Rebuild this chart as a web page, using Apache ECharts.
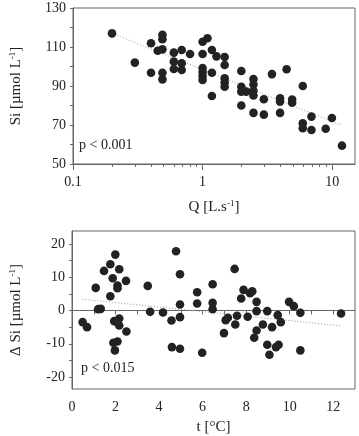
<!DOCTYPE html>
<html>
<head>
<meta charset="utf-8">
<script src="https://cdn.jsdelivr.net/npm/echarts@6/dist/echarts.min.js"></script>
<style>
  html, body { margin: 0; padding: 0; background: #fff; }
  #main { width: 359px; height: 436px; }
</style>
</head>
<body>
<div id="main"></div>
<script>
//----------- Data
// top panel: discharge Q [L/s] vs Si [umol/L]
const qFlow = [0.2, 0.3, 0.4, 0.4, 0.45, 0.49, 0.49, 0.49, 0.49, 0.49,
    0.6, 0.6, 0.6, 0.69, 0.69, 0.69, 0.8, 1.0, 1.09, 1.0,
    1.0, 1.0, 1.0, 1.0, 1.18, 1.28, 1.18, 1.18, 1.48, 1.48,
    1.48, 1.48, 1.48, 1.99, 1.99, 1.99, 1.99, 2.17, 2.47, 2.47,
    2.47, 2.47, 2.47, 2.97, 2.97, 3.43, 3.96, 3.96, 3.96, 4.45,
    4.91, 4.91, 5.93, 5.93, 5.93, 6.92, 6.92, 8.91, 9.95, 11.9];
const siConc = [117, 102, 111.9, 96.8, 108.1, 116.2, 114, 108.8, 96.8, 93.4,
    107.1, 102.5, 98.7, 108.5, 101.6, 98.2, 106.4, 112.7, 114.5, 106.4,
    99.2, 97.2, 95.1, 93.1, 108.5, 105.2, 96.8, 84.9, 104.9, 100.8,
    93.9, 91.8, 89.6, 97.7, 89.6, 87.1, 80, 87.1, 93.6, 90.8,
    87.6, 85.1, 76.2, 83.2, 75.3, 96.1, 83.7, 82, 76.2, 98.6,
    83.1, 81.4, 90, 70.9, 68.3, 74.3, 67.4, 68.1, 73.6, 59.4];
const topTrendQ = [0.2, 11.7];
const topTrendSi = [117, 70];

// bottom panel: temperature t [C] vs delta Si
const tempC = [0.49, 0.69, 1.09, 1.2, 1.32, 1.47, 1.76, 1.76, 1.87, 1.99,
    2.17, 2.09, 2.09, 2.48, 1.94, 2.17, 2.17, 2.09, 2.5, 1.9,
    2.09, 1.97, 3.48, 3.59, 4.18, 4.57, 4.59, 4.78, 4.96, 4.96,
    4.96, 4.96, 5.75, 5.75, 5.98, 6.46, 6.46, 6.46, 6.98, 7.06,
    7.16, 7.47, 7.5, 7.58, 7.77, 7.88, 8.07, 8.18, 8.28, 8.37,
    8.48, 8.48, 8.48, 8.77, 8.97, 8.97, 9.07, 9.19, 9.37, 9.45,
    9.49, 9.59, 9.97, 10.19, 10.49, 10.49, 12.36];
const dSi = [-3.5, -5, 6.8, 0.4, 0.5, 11.9, 13.9, 4.3, 9.7, 16.8,
    12.4, 7.5, 6.7, 8.9, -3.2, -2.4, -4.5, -3.6, -6.3, -9.7,
    -9.3, -12, 7.4, -0.4, -0.6, -3, -11, 17.8, 10.9, 1.8,
    -2, -11.5, 5.5, 2.1, -12.7, 7.9, 2.3, 0.4, -6.8, -2.9,
    -2.2, 12.5, -4.2, -1.6, 3.6, 6.2, -1.9, 5.2, 5.8, -8.2,
    2.6, -0.2, -6, -4.2, -0.2, -10.3, -13.3, -5, -11, -1.4,
    -10.3, -3.5, 2.6, 1.3, -0.7, -12, -0.9];
const botTrendT = [0.48, 12.3];
const botTrendDSi = [3.4, -4.6];

// ticks and labels
const qMajorTicks = [0.1, 1, 10];
const qMinorTicks = [0.2, 0.3, 0.4, 0.5, 0.6, 0.7, 0.8, 0.9, 2, 3, 4, 5, 6, 7, 8, 9];
const siTicks = [50, 60, 70, 80, 90, 100, 110, 120, 130];
const siLabels = [50, 70, 90, 110, 130];
const tTicks = [0, 1, 2, 3, 4, 5, 6, 7, 8, 9, 10, 11, 12];
const tLabels = [0, 2, 4, 6, 8, 10, 12];
const dSiTicks = [-20, -15, -10, -5, 0, 5, 10, 15, 20];
const dSiLabels = [-20, -10, 0, 10, 20];
//----------- Data

const zip = (xs, ys) => xs.map((x, i) => [x, ys[i]]);

const serif = "Liberation Serif";
const ink = "#222";
const frame = "#666";
const supRich = {
    sup: {fontSize: 9, fontFamily: serif, color: ink, padding: [0, 0, 7, 0]}
};
const nameStyle = {fontFamily: serif, fontSize: 15, color: ink, rich: supRich};
const labelStyle = {fontFamily: serif, fontSize: 14, color: ink};

const myChart = echarts.init(document.getElementById("main"), null, {renderer: "canvas"});

const option = {
    animation: false,
    backgroundColor: "#fff",
    grid: [
        {left: 65, right: 4, top: 8, height: 156, show: true, borderColor: frame, borderWidth: 1},
        {left: 65, right: 4, top: 231, height: 158, show: true, borderColor: frame, borderWidth: 1}
    ],
    xAxis: [
        {
            gridIndex: 0, type: "log", min: 0.1, max: 15, position: "bottom",
            name: "Q [L.s{sup|-1}]", nameLocation: "middle", nameGap: 35, nameTextStyle: nameStyle,
            axisLine: {lineStyle: {color: frame}},
            axisTick: {length: 6, customValues: qMajorTicks, lineStyle: {color: frame}},
            axisLabel: Object.assign({margin: 11, customValues: qMajorTicks, formatter: v => String(v)}, labelStyle),
            splitLine: {show: false}
        },
        {
            gridIndex: 0, type: "log", min: 0.1, max: 15, position: "bottom",
            axisLine: {show: false},
            axisTick: {length: 3, customValues: qMinorTicks, lineStyle: {color: frame}},
            axisLabel: {show: false},
            splitLine: {show: false}
        },
        {
            gridIndex: 1, type: "value", min: 0, max: 13, position: "bottom",
            name: "t [°C]", nameLocation: "middle", nameGap: 31, nameTextStyle: nameStyle,
            axisLine: {lineStyle: {color: frame}},
            axisTick: {length: 4, customValues: tTicks, lineStyle: {color: frame}},
            axisLabel: Object.assign({margin: 11, customValues: tLabels}, labelStyle),
            splitLine: {show: false}
        }
    ],
    yAxis: [
        {
            gridIndex: 0, type: "value", min: 50, max: 130,
            name: "Si [µmol L{sup|-1}]", nameLocation: "middle", nameGap: 49, nameTextStyle: nameStyle,
            axisLine: {lineStyle: {color: frame}},
            axisTick: {length: 3, customValues: siTicks, lineStyle: {color: frame}},
            axisLabel: Object.assign({margin: 7, customValues: siLabels}, labelStyle),
            splitLine: {show: false}
        },
        {
            gridIndex: 1, type: "value", min: -23.6, max: 23.9,
            name: "Δ Si [µmol L{sup|-1}]", nameLocation: "middle", nameGap: 48, nameTextStyle: nameStyle,
            axisLine: {lineStyle: {color: frame}},
            axisTick: {length: 3, customValues: dSiTicks, lineStyle: {color: frame}},
            axisLabel: Object.assign({margin: 7, customValues: dSiLabels}, labelStyle),
            splitLine: {show: false}
        }
    ],
    series: [
        {
            type: "line", xAxisIndex: 0, yAxisIndex: 0, data: zip(topTrendQ, topTrendSi),
            symbol: "none", silent: true, z: 1,
            lineStyle: {color: "#999", width: 1, type: [1, 2]}
        },
        {
            type: "scatter", xAxisIndex: 0, yAxisIndex: 0, data: zip(qFlow, siConc),
            symbolSize: 8.6, itemStyle: {color: ink, opacity: 1}, z: 2
        },
        {
            type: "line", xAxisIndex: 2, yAxisIndex: 1, data: zip(botTrendT, botTrendDSi),
            symbol: "none", silent: true, z: 1,
            lineStyle: {color: "#999", width: 1, type: [1, 2]}
        },
        {
            type: "scatter", xAxisIndex: 2, yAxisIndex: 1, data: zip(tempC, dSi),
            symbolSize: 8.6, itemStyle: {color: ink, opacity: 1}, z: 2
        }
    ],
    graphic: [
        {type: "text", left: 79, top: 138, style: {text: "p < 0.001", font: "14px " + serif, fill: ink}},
        {type: "text", left: 81, top: 361, style: {text: "p < 0.015", font: "14px " + serif, fill: ink}}
    ]
};

myChart.setOption(option);
</script>
</body>
</html>
